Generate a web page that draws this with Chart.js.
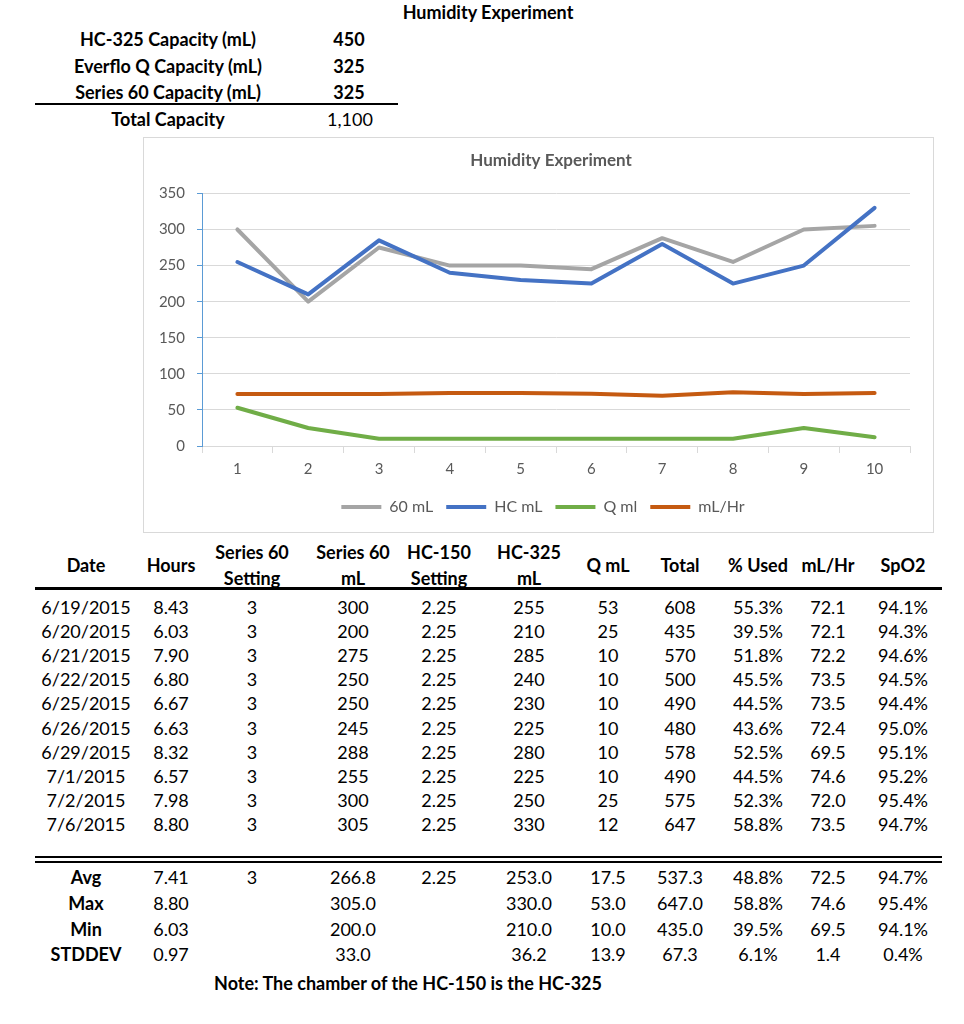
<!DOCTYPE html>
<html>
<head>
<meta charset="utf-8">
<script src="https://cdn.jsdelivr.net/npm/chart.js@4/dist/chart.umd.min.js"></script>
<style>
  body { margin: 0; background: #fff; font-family: Lato, "Open Sans", sans-serif; color: #000; }
  #page { position: relative; width: 964px; height: 1024px; overflow: hidden; }
  .t { position: absolute; white-space: nowrap; transform: translate(-50%, -50%); font-size: 18px; line-height: 1; }
  .b { font-weight: bold; }
  .rule { position: absolute; background: #000; }
  #chartBox { position: absolute; left: 143px; top: 137px; width: 791px; height: 396px;
              border: 1px solid #d9d9d9; box-sizing: border-box; }
</style>
</head>
<body>
<div id="page">
  <div id="chartBox"><canvas id="humidityChart"></canvas></div>
</div>
<script>
// chart data
const runs = ["1", "2", "3", "4", "5", "6", "7", "8", "9", "10"];
const series60 = [300, 200, 275, 250, 250, 245, 288, 255, 300, 305];
const hcMl = [255, 210, 285, 240, 230, 225, 280, 225, 250, 330];
const qMl = [53, 25, 10, 10, 10, 10, 10, 10, 25, 12];
const mlPerHr = [72.1, 72.1, 72.2, 73.5, 73.5, 72.4, 69.5, 74.6, 72.0, 73.5];

// table data
const dates = ["6/19/2015", "6/20/2015", "6/21/2015", "6/22/2015", "6/25/2015",
               "6/26/2015", "6/29/2015", "7/1/2015", "7/2/2015", "7/6/2015"];
const hours = [8.43, 6.03, 7.90, 6.80, 6.67, 6.63, 8.32, 6.57, 7.98, 8.80];
const s60Setting = [3, 3, 3, 3, 3, 3, 3, 3, 3, 3];
const hc150Setting = [2.25, 2.25, 2.25, 2.25, 2.25, 2.25, 2.25, 2.25, 2.25, 2.25];
const totals = [608, 435, 570, 500, 490, 480, 578, 490, 575, 647];
const pctUsed = [55.3, 39.5, 51.8, 45.5, 44.5, 43.6, 52.5, 44.5, 52.3, 58.8];
const spo2 = [94.1, 94.3, 94.6, 94.5, 94.4, 95.0, 95.1, 95.2, 95.4, 94.7];

const avgRow = ["Avg", "7.41", "3", "266.8", "2.25", "253.0", "17.5", "537.3", "48.8%", "72.5", "94.7%"];
const maxRow = ["Max", "8.80", "", "305.0", "", "330.0", "53.0", "647.0", "58.8%", "74.6", "95.4%"];
const minRow = ["Min", "6.03", "", "200.0", "", "210.0", "10.0", "435.0", "39.5%", "69.5", "94.1%"];
const sdRow = ["STDDEV", "0.97", "", "33.0", "", "36.2", "13.9", "67.3", "6.1%", "1.4", "0.4%"];

const capLabels = ["HC-325 Capacity (mL)", "Everflo Q Capacity (mL)", "Series 60 Capacity (mL)"];
const capValues = ["450", "325", "325"];

const page = document.getElementById("page");

function put(text, x, y, bold, size) {
    const d = document.createElement("div");
    d.className = "t" + (bold ? " b" : "");
    d.style.left = x + "px";
    d.style.top = y + "px";
    if (size) d.style.fontSize = size + "px";
    d.textContent = text;
    page.appendChild(d);
}
function rule(x, y, w, h) {
    const d = document.createElement("div");
    d.className = "rule";
    d.style.left = x + "px";
    d.style.top = y + "px";
    d.style.width = w + "px";
    d.style.height = h + "px";
    page.appendChild(d);
}

// top block
put("Humidity Experiment", 488, 12, true);
capLabels.forEach((lab, i) => {
    put(lab, 168, 39 + i * 26.5, true);
    put(capValues[i], 349, 39 + i * 26.5, true);
});
rule(35, 103, 363, 2);
put("Total Capacity", 168, 119, true);
put("1,100", 350, 119, false);

// data table
const cols = [86, 171, 252, 353, 439, 529, 608, 680, 758, 828, 903];
const heads = [["Date"], ["Hours"], ["Series 60", "Setting"], ["Series 60", "mL"], ["HC-150", "Setting"],
               ["HC-325", "mL"], ["Q mL"], ["Total"], ["% Used"], ["mL/Hr"], ["SpO2"]];
heads.forEach((h, i) => {
    if (h.length === 1) put(h[0], cols[i], 565, true);
    else { put(h[0], cols[i], 552, true); put(h[1], cols[i], 578, true); }
});
rule(35, 587, 907, 3);

dates.forEach((d, r) => {
    const y = 607 + r * 24.1;
    const cells = [d, hours[r].toFixed(2), String(s60Setting[r]), String(series60[r]),
                   hc150Setting[r].toFixed(2), String(hcMl[r]), String(qMl[r]), String(totals[r]),
                   pctUsed[r].toFixed(1) + "%", mlPerHr[r].toFixed(1), spo2[r].toFixed(1) + "%"];
    cells.forEach((c, i) => put(c, cols[i], y, false));
});
rule(35, 856, 907, 2);
rule(35, 861, 907, 2);

[avgRow, maxRow, minRow, sdRow].forEach((row, r) => {
    const y = 877 + r * 25.8;
    row.forEach((c, i) => { if (c) put(c, cols[i], y, i === 0); });
});
put("Note: The chamber of the HC-150 is the HC-325", 408, 983, true);

// chart
const grey = "#595959";

// nudge title and legend right so they sit where Excel put them
const shiftBoxes = {
    id: "shiftBoxes",
    afterLayout(chart) {
        chart.titleBlock.left += 19;
        chart.titleBlock.right += 19;
        chart.legend.left += 11;
        chart.legend.right += 11;
    },
};

const lineSet = (label, data, color, order) => ({
    label, data, order,
    borderColor: color,
    backgroundColor: color,
    borderWidth: 4,
    borderCapStyle: "round",
    borderJoinStyle: "round",
});

new Chart(document.getElementById("humidityChart"), {
    type: "line",
    data: {
        labels: runs,
        datasets: [
            lineSet("60 mL", series60, "#A5A5A5", 4),
            lineSet("HC mL", hcMl, "#4472C4", 3),
            lineSet("Q ml", qMl, "#70AD47", 2),
            lineSet("mL/Hr", mlPerHr, "#C55A11", 1),
        ],
    },
    options: {
        responsive: true,
        maintainAspectRatio: false,
        animation: false,
        layout: { padding: { left: 10, right: 23, top: 0, bottom: 7 } },
        elements: {
            line: { tension: 0 },
            point: { radius: 0, hoverRadius: 0 },
        },
        scales: {
            x: {
                offset: true,
                grid: { offset: true, drawOnChartArea: false, tickLength: 7, tickColor: "#d9d9d9" },
                border: { color: "#d9d9d9" },
                ticks: { color: grey, font: { family: "Lato", size: 15 }, padding: 7 },
                afterFit: (s) => { s.height = 40; },
            },
            y: {
                min: 0,
                max: 350,
                ticks: { stepSize: 50, color: grey, font: { family: "Lato", size: 15 }, padding: 12 },
                grid: { color: "#d9d9d9", tickLength: 5, tickColor: "#5B9BD5" },
                border: { color: "#5B9BD5" },
                afterFit: (s) => { s.width = 48; },
            },
        },
        plugins: {
            title: {
                display: true,
                text: "Humidity Experiment",
                color: grey,
                font: { family: "Lato", size: 17, weight: "bold" },
                padding: { top: 12, bottom: 23 },
            },
            legend: {
                position: "bottom",
                labels: {
                    usePointStyle: true,
                    pointStyle: "line",
                    pointStyleWidth: 40,
                    boxWidth: 40,
                    padding: 13,
                    color: grey,
                    font: { family: "Lato", size: 16 },
                    sort: (a, b) => a.datasetIndex - b.datasetIndex,
                },
            },
            tooltip: { enabled: false },
        },
    },
    plugins: [shiftBoxes],
});
</script>
</body>
</html>
